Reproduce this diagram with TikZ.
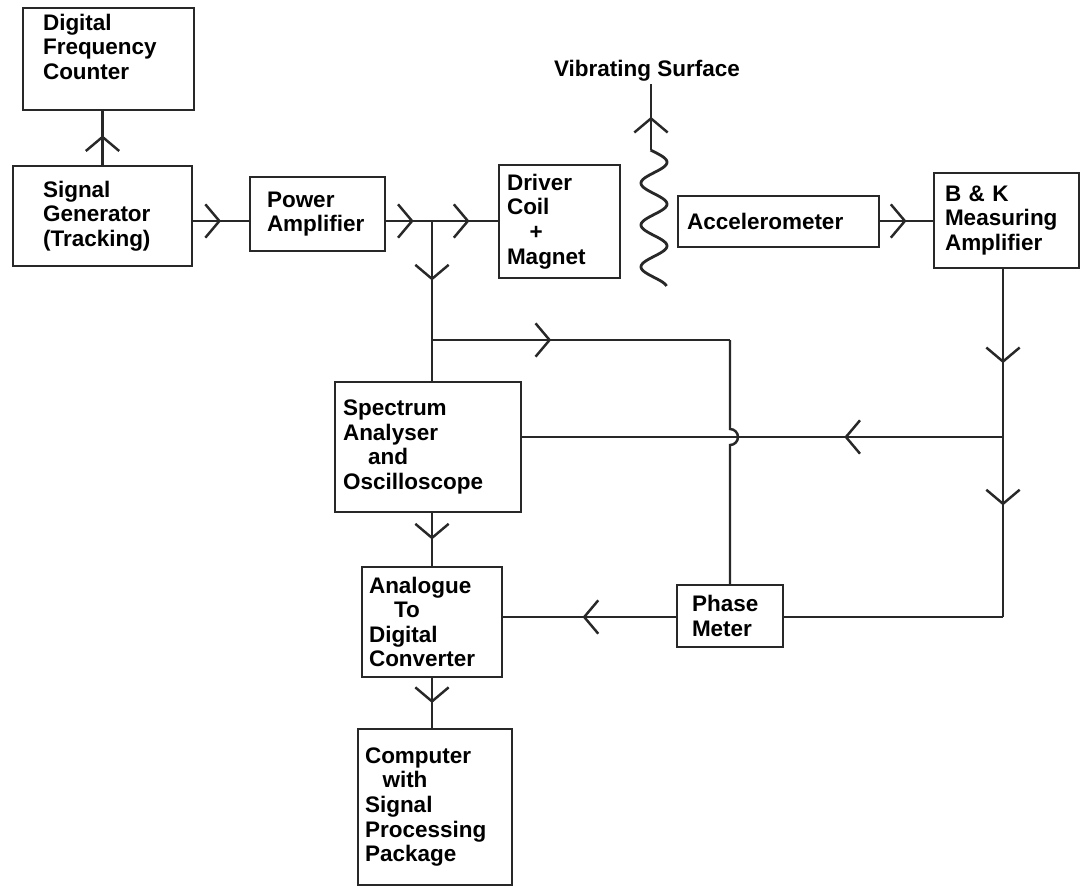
\documentclass[tikz,border=0pt]{standalone}
\usepackage{fontspec}
\setmainfont{Liberation Sans}
\usetikzlibrary{arrows.meta, decorations.markings}
\definecolor{inkclr}{RGB}{40, 40, 40}

\tikzset{
  blk/.style={draw=inkclr, line width=1.4pt, align=left, inner ysep=2pt},
  wire/.style={draw=inkclr, line width=1.4pt},
  midarrow/.style={postaction={decorate}, decoration={markings,
      mark=at position #1 with {\arrow[inkclr, line width=1.4pt]{Straight Barb[length=8pt, width=19pt]}}}},
}

\begin{document}
\begin{tikzpicture}[x=0.02cm, y=-0.02cm, font=\fontsize{12.8}{14}\selectfont\bfseries]
  \useasboundingbox (0,0) rectangle (1080,887);
  % blocks
  \node[blk, minimum height=2.04cm, text width=2.62cm, inner xsep=0.4cm] (dfc) at (108.5,59)
    {Digital\\Frequency\\Counter\\ \mbox{}};
  \node[blk, minimum height=2.0cm, text width=2.38cm, inner xsep=0.6cm] (siggen) at (102.5,216)
    {Signal\\Generator\\(Tracking)};
  \node[blk, minimum height=1.48cm, text width=2.02cm, inner xsep=0.34cm] (poweramp) at (317.5,214)
    {Power\\Amplifier};
  \node[blk, minimum height=2.26cm, text width=2.1cm, inner xsep=0.16cm] (driver) at (559.5,221.5)
    {Driver\\Coil\\\hspace{0.45cm}+\\Magnet};
  \node[blk, minimum height=1.02cm, text width=3.66cm, inner xsep=0.18cm] (accel) at (778.5,221.5)
    {Accelerometer};
  \node[blk, minimum height=1.9cm, text width=2.46cm, inner xsep=0.22cm] (bk) at (1006.5,220.5)
    {B \& K\\Measuring\\Amplifier};
  \node[blk, minimum height=2.6cm, text width=3.4cm, inner xsep=0.16cm] (spectrum) at (428,447)
    {Spectrum\\Analyser\\\hspace{0.5cm}and\\Oscilloscope};
  \node[blk, minimum height=2.2cm, text width=2.52cm, inner xsep=0.14cm] (adc) at (432,622)
    {Analogue\\\hspace{0.5cm}To\\Digital\\Converter};
  \node[blk, minimum height=3.12cm, text width=2.8cm, inner xsep=0.14cm] (computer) at (435,807)
    {Computer\\\hspace{0.35cm}with\\Signal\\Processing\\Package};
  \node[blk, minimum height=1.24cm, text width=1.52cm, inner xsep=0.3cm] (phase) at (730,616)
    {Phase\\Meter};
  \node[inner sep=1pt] (vib) at (647,71) {Vibrating Surface};

  % junctions and corners
  \coordinate (j1) at (432,221);
  \coordinate (j2) at (432,340);
  \coordinate (r1) at (1003,437);
  \coordinate (r2) at (1003,617);
  \coordinate (hop) at (730,429);
  \coordinate (wtop) at (651,150);

  % drive chain
  \draw[wire, midarrow=0.55] (siggen.north) -- (siggen.north |- dfc.south);
  \draw[wire, midarrow=0.5] (siggen.east |- j1) -- (poweramp.west |- j1);
  \draw[wire, midarrow=0.6] (poweramp.east |- j1) -- (j1);
  \draw[wire, midarrow=0.57] (j1) -- (driver.west |- j1);
  \draw[wire, midarrow=0.5] (j1) -- (j2);
  \draw[wire] (j2) -- (spectrum.north -| j2);
  \draw[wire, midarrow=0.4] (j2) -- (phase.north |- j2);
  \draw[wire] (phase.north |- j2) -- (hop) arc[start angle=-90, end angle=90, radius=8] -- (phase.north);

  % pick-up chain
  \draw[wire, midarrow=0.5] (accel.east |- j1) -- (bk.west |- j1);
  \draw[wire, midarrow=0.56] (bk.south -| r1) -- (r1);
  \draw[wire, midarrow=0.33] (r1) -- (spectrum.east |- r1);
  \draw[wire, midarrow=0.38] (r1) -- (r2);
  \draw[wire] (r2) -- (phase.east |- r2);
  \draw[wire, midarrow=0.54] (phase.west |- r2) -- (adc.east |- r2);

  % analysis chain
  \draw[wire, midarrow=0.5] (adc.north |- spectrum.south) -- (adc.north);
  \draw[wire, midarrow=0.5] (adc.south) -- (adc.south |- computer.north);

  % vibrating surface
  \draw[wire, midarrow=0.5] (wtop) -- (wtop |- vib.south);
  \draw[wire, line width=1.6pt, domain=150:286, samples=120]
    plot ({654+13*sin(8.6*(\x-150)-15)}, \x);
\end{tikzpicture}
\end{document}
